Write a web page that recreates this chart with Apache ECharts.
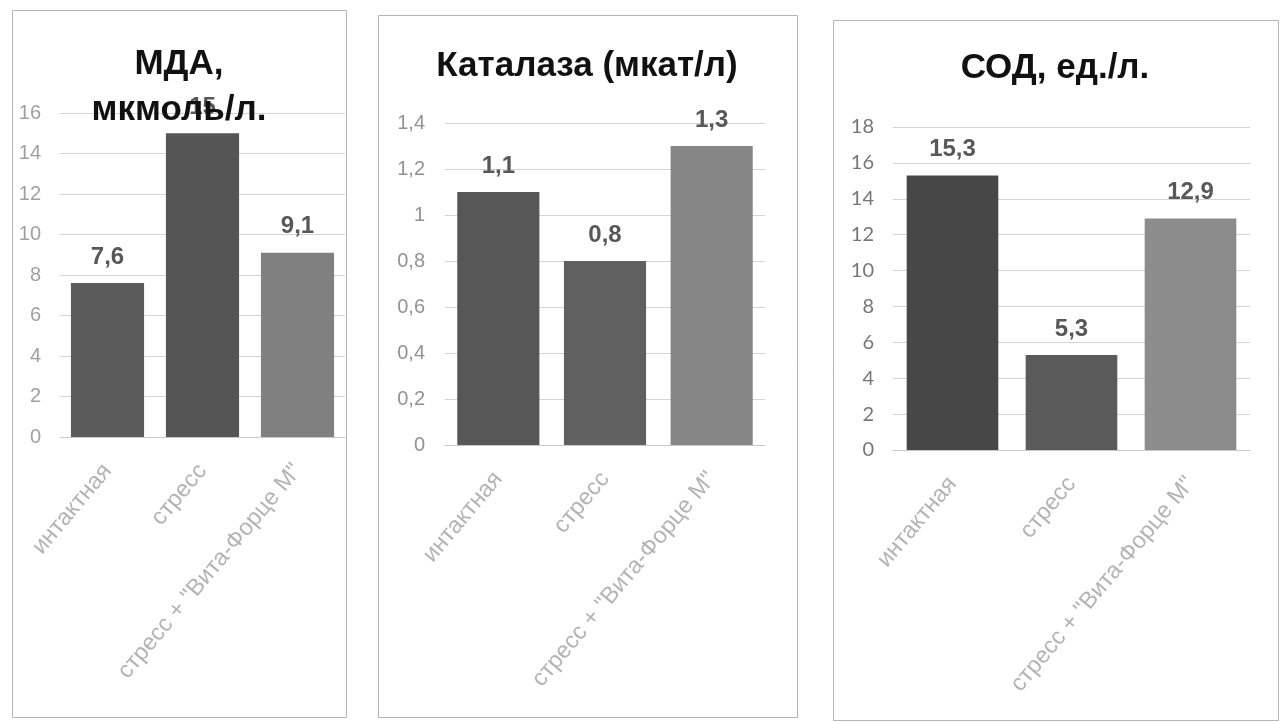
<!DOCTYPE html>
<html>
<head>
<meta charset="utf-8">
<script src="https://cdn.jsdelivr.net/npm/echarts@6/dist/echarts.min.js"></script>
<style>
html,body{margin:0;padding:0;background:#fff;}
#c{width:1284px;height:722px;}
</style>
</head>
<body>
<div id="c"></div>
<script>
const categories = ['интактная', 'стресс', 'стресс + "Вита-Форце М"'];
const mdaValues = [7.6, 15, 9.1];
const catalaseValues = [1.1, 0.8, 1.3];
const sodValues = [15.3, 5.3, 12.9];
const titles = ['МДА,\nмкмоль/л.', 'Каталаза (мкат/л)', 'СОД, ед./л.'];
const yMax = [16, 1.4, 18];
const yStep = [2, 0.2, 2];

const panelColors = [
  ['#5b5b5b', '#555555', '#808080'],
  ['#575757', '#606060', '#868686'],
  ['#474747', '#5a5a5a', '#8c8c8c']
];
const grids = [
  {left: 60, right: 1284 - 345, top: 113, bottom: 722 - 437},
  {left: 445, right: 1284 - 765, top: 123, bottom: 722 - 445},
  {left: 893, right: 1284 - 1250, top: 127, bottom: 722 - 450}
];
const panels = [
  {x: 12, y: 10, w: 334, h: 707},
  {x: 378, y: 15, w: 419, h: 702},
  {x: 833, y: 20, w: 445, h: 700}
];
const titlePos = [[179, 87], [587, 66], [1055, 68]];
const seriesValues = [mdaValues, catalaseValues, sodValues];
const yFonts = ['Liberation Sans', 'Liberation Sans', 'Lato'];
const yColors = ['#a0a0a0', '#929292', '#777777'];

const comma = v => String(v).replace('.', ',');

const chart = echarts.init(document.getElementById('c'));
const option = {
  animation: false,
  backgroundColor: '#fff',
  grid: grids,
  xAxis: grids.map((g, i) => ({
    type: 'category',
    gridIndex: i,
    data: categories,
    axisTick: {show: false},
    axisLine: {show: true, lineStyle: {color: '#c8c8c8'}},
    axisLabel: {
      rotate: 50, margin: 30, interval: 0,
      fontFamily: 'Liberation Sans', fontSize: 23.5, color: '#b4b4b4'
    }
  })),
  yAxis: grids.map((g, i) => ({
    type: 'value',
    gridIndex: i,
    min: 0, max: yMax[i], interval: yStep[i],
    axisLine: {show: false}, axisTick: {show: false},
    splitLine: {lineStyle: {color: '#d4d4d4', width: 1}},
    axisLabel: {
      margin: i === 1 ? 20 : 19,
      fontFamily: yFonts[i], fontSize: 20, color: yColors[i],
      formatter: v => comma(Math.round(v * 10) / 10)
    }
  })),
  series: seriesValues.map((vals, i) => ({
    type: 'bar',
    xAxisIndex: i, yAxisIndex: i,
    barWidth: '77%',
    data: vals.map((v, k) => ({value: v, itemStyle: {color: panelColors[i][k]}})),
    label: {
      show: true, position: 'top', distance: 14,
      fontFamily: 'Liberation Sans', fontWeight: 'bold', fontSize: 24, color: '#585858',
      formatter: p => comma(p.value)
    }
  })),
  graphic: [
    ...panels.map(p => ({
      type: 'rect', z: -1, silent: true,
      shape: {x: p.x + 0.5, y: p.y + 0.5, width: p.w, height: p.h},
      style: {fill: 'none', stroke: '#b5b5b5', lineWidth: 1}
    })),
    ...titles.map((t, i) => ({
      type: 'text', z: 100,
      x: titlePos[i][0], y: titlePos[i][1],
      style: {
        text: t, align: 'center', verticalAlign: 'middle',
        font: 'bold 35px "Liberation Sans"', fill: '#111',
        lineHeight: 46
      }
    }))
  ]
};
chart.setOption(option);
</script>
</body>
</html>
